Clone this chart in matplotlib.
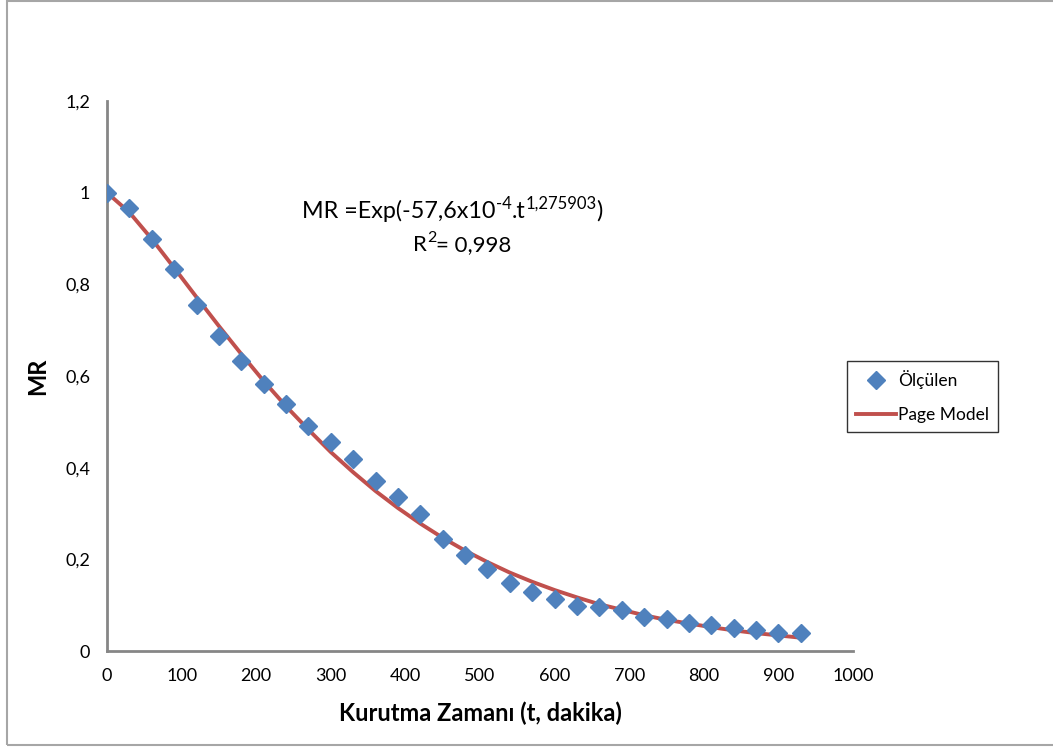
import numpy as np
import matplotlib.pyplot as plt
from matplotlib.patches import Rectangle
from matplotlib.ticker import FuncFormatter
from matplotlib.transforms import offset_copy

plt.rcParams['font.family'] = ['Lato', 'DejaVu Sans']

# drying time (min)
time_min = [0, 30, 60, 90, 120, 150, 180, 210, 240, 270, 300, 330, 360, 390, 420,
            450, 480, 510, 540, 570, 600, 630, 660, 690, 720, 750, 780, 810, 840,
            870, 900, 930]

# measured moisture ratio
mr_measured = [1.000, 0.967, 0.899, 0.834, 0.755, 0.687, 0.633, 0.583, 0.539, 0.491,
               0.456, 0.419, 0.371, 0.336, 0.299, 0.244, 0.209, 0.179, 0.148, 0.129,
               0.113, 0.098, 0.096, 0.089, 0.074, 0.070, 0.061, 0.057, 0.050, 0.046,
               0.039, 0.039]

# Page model values at the same times
mr_page = [1.000, 0.957, 0.899, 0.836, 0.772, 0.709, 0.648, 0.589, 0.534, 0.483,
           0.434, 0.390, 0.349, 0.312, 0.278, 0.247, 0.219, 0.194, 0.171, 0.151,
           0.133, 0.117, 0.102, 0.090, 0.078, 0.068, 0.060, 0.052, 0.045, 0.039,
           0.034, 0.029]

x_ticks = [0, 100, 200, 300, 400, 500, 600, 700, 800, 900, 1000]
y_ticks = [0, 0.2, 0.4, 0.6, 0.8, 1.0, 1.2]

blue = "#4F81BD"
red = "#C0504D"
axis_gray = "#868686"

fig = plt.figure(figsize=(10.53, 7.47), dpi=100)
ax = fig.add_axes([107/1053, 1 - 651/747, (853 - 107)/1053, (651 - 101)/747])

# outer chart frame
fig.patches.append(Rectangle((7/1053, 2/747), 1.1, 744/747, transform=fig.transFigure,
                             fill=False, edgecolor="#A6A6A6", linewidth=1.5))

ax.plot(time_min, mr_page, color=red, linewidth=2.8, label="Page Model", zorder=2)
ax.plot(time_min, mr_measured, linestyle="none", marker="D", markersize=9,
        color=blue, label="Ölçülen", zorder=3)

ax.set_xlim(0, 1000)
ax.set_ylim(0, 1.2)
ax.set_xticks(x_ticks)
ax.set_yticks(y_ticks)
ax.yaxis.set_major_formatter(FuncFormatter(lambda v, p: f"{v:g}".replace(".", ",")))
ax.tick_params(length=0, labelsize=13, colors="black")
ax.tick_params(axis="x", pad=12)
ax.tick_params(axis="y", pad=12)

for side in ("top", "right"):
    ax.spines[side].set_visible(False)
for side in ("left", "bottom"):
    ax.spines[side].set_color(axis_gray)
    ax.spines[side].set_linewidth(2)

ax.set_xlabel("Kurutma Zamanı (t, dakika)", fontsize=17, fontweight="bold", labelpad=13)
ax.set_ylabel("MR", fontsize=17, fontweight="bold", labelpad=12)


def text_pieces(x, y, pieces):
    # lay out (text, size, rise) pieces one after another on a shared baseline
    renderer = fig.canvas.get_renderer()
    dx = 0.0
    for s, size, rise in pieces:
        tr = offset_copy(ax.transData, fig=fig, x=dx, y=rise, units="dots")
        t = ax.text(x, y, s, fontsize=size, ha="left", va="baseline", transform=tr)
        dx += t.get_window_extent(renderer).width


# model equation
text_pieces(262, 0.945, [("MR =Exp(-57,6x10", 16.8, 0),
                         ("-4", 12, 9),
                         (".t", 16.8, 0),
                         ("1,275903", 12, 9),
                         (")", 16.8, 0)])
text_pieces(410, 0.872, [("R", 16, 0), ("2", 11.5, 9), ("= 0,998", 16, 0)])

handles, labels = ax.get_legend_handles_labels()
leg = fig.legend(handles[::-1], labels[::-1], loc="upper left",
                 bbox_to_anchor=(847/1053, 1 - 361/747), fontsize=12.5,
                 frameon=True, fancybox=False, edgecolor="black",
                 handlelength=2.3, handletextpad=0.15, borderpad=0.5,
                 labelspacing=1.05, borderaxespad=0)
leg.get_frame().set_linewidth(1)

fig.savefig("out.png", dpi=100)
